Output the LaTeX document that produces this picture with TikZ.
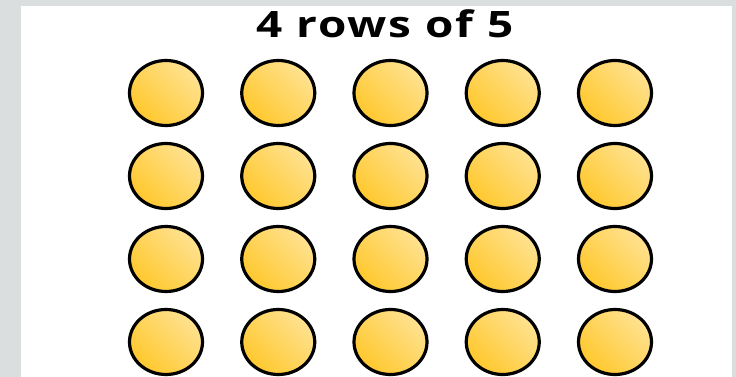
\documentclass[tikz,border=0pt]{standalone}
\usepackage{fontspec}
\setmainfont{Open Sans}
\newfontfamily\titlefont{Open Sans}[LetterSpace=4]
\usetikzlibrary{shapes.geometric}
\definecolor{panelgray}{RGB}{218,222,223}
\definecolor{coinlight}{RGB}{255,226,145}
\definecolor{coindark}{RGB}{255,200,45}

\begin{document}
\begin{tikzpicture}[
    x=1pt, y=-1pt,
    coin/.style={ellipse, draw=black, line width=3.2pt, minimum width=73pt, minimum height=65pt, inner sep=0pt,
      bottom color=coindark, top color=coinlight, shading angle=-45},
    heading/.style={font=\titlefont\fontsize{36.4}{40}\selectfont\bfseries, inner sep=0pt}
  ]
    \fill[panelgray] (0,0) rectangle (736,377);
    \fill[white] (21,6) rectangle (732,377);
    \useasboundingbox (0,0) rectangle (736,377);

    \node[heading] (title) at (385,23.5) {\scalebox{1.26}[1]{4 rows of 5}};

    % 4 rows, 5 coins each
    \foreach \r in {1,...,4}{
      \foreach \c in {1,...,5}{
        \node[coin] (coin-\r-\c) at ({166+112.25*(\c-1)}, {93+83*(\r-1)}) {};
      }
    }
  \end{tikzpicture}
\end{document}
